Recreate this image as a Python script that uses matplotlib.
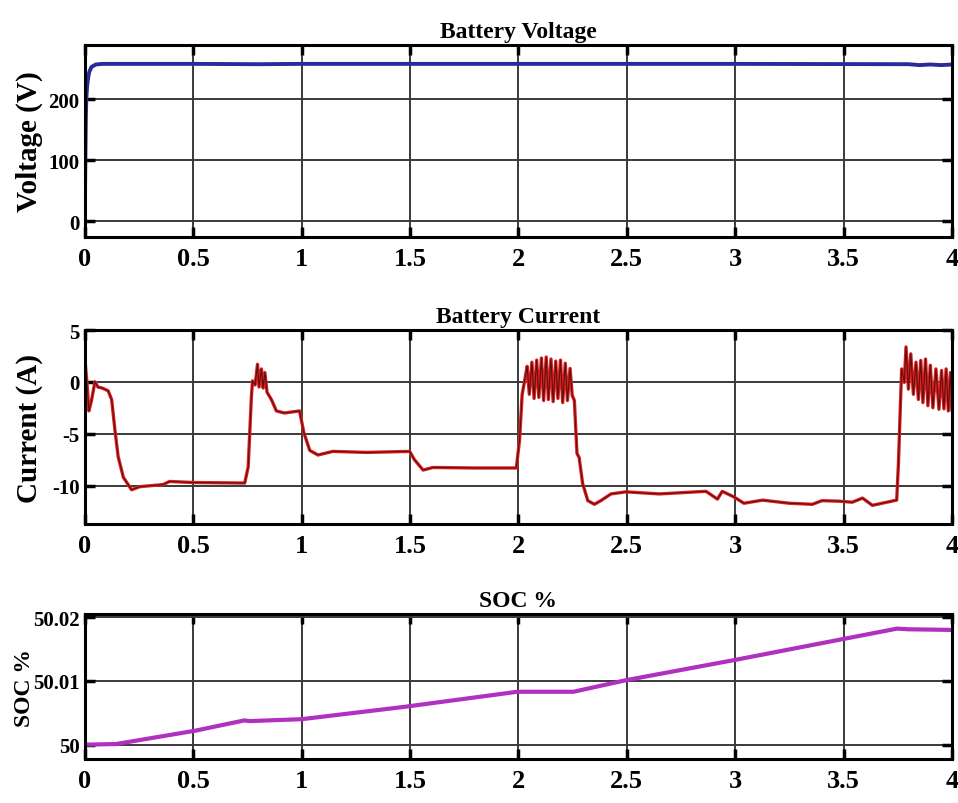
import matplotlib
matplotlib.use('Agg')
import matplotlib.pyplot as plt

plt.rcParams['font.family'] = ['Liberation Serif', 'DejaVu Serif']
plt.rcParams['font.weight'] = 'bold'

# battery voltage (V) vs time (s)
t_volt = [0.0, 0.002, 0.004, 0.006, 0.010, 0.015, 0.020, 0.030, 0.050, 0.080,
          0.5, 0.8, 1.0, 2.0, 3.0, 3.8, 3.85, 3.9, 3.95, 4.0]
volt = [40, 110, 170, 200, 222, 236, 245, 253, 257, 258,
        258, 257.5, 258, 258, 258, 257.5, 256, 257, 256, 257]

# battery current (A) vs time (s)
t_curr = [0.0, 0.01, 0.018, 0.03, 0.046, 0.06, 0.08, 0.107, 0.123, 0.138,
          0.153, 0.177, 0.215, 0.253, 0.36, 0.39, 0.5, 0.737, 0.753, 0.768,
          0.773, 0.785, 0.796, 0.803, 0.814, 0.822, 0.83, 0.84, 0.86, 0.883,
          0.92, 0.99, 1.01, 1.037, 1.075, 1.144, 1.3, 1.498, 1.52, 1.56,
          1.605, 1.8, 1.99, 2.005, 2.017, 2.03, 2.040, 2.050, 2.062, 2.072,
          2.084, 2.094, 2.106, 2.116, 2.128, 2.138, 2.150, 2.160, 2.172, 2.182,
          2.194, 2.204, 2.216, 2.226, 2.238, 2.248, 2.258, 2.263, 2.27, 2.28,
          2.296, 2.32, 2.35, 2.38, 2.427, 2.496, 2.65, 2.865, 2.918, 2.94,
          2.995, 3.04, 3.126, 3.25, 3.356, 3.40, 3.48, 3.54, 3.587, 3.633,
          3.733, 3.745, 3.753, 3.762, 3.768, 3.78, 3.788, 3.799, 3.81, 3.822,
          3.834, 3.845, 3.856, 3.866, 3.878, 3.889, 3.90, 3.912, 3.926, 3.94,
          3.952, 3.963, 3.973, 3.983, 3.993, 4.0]
curr = [2.1, -0.3, -2.8, -1.8, 0.0, -0.5, -0.6, -0.86, -1.7, -4.6,
        -7.2, -9.2, -10.4, -10.1, -9.9, -9.6, -9.7, -9.75, -8.2, -1.35,
        0.1, -0.3, 1.7, -0.5, 1.25, -0.6, 0.9, -1.0, -1.7, -2.8,
        -3.0, -2.8, -4.9, -6.6, -7.05, -6.7, -6.8, -6.7, -7.5, -8.5,
        -8.25, -8.3, -8.3, -5.6, -1.2, 0.3, 1.5, -1.2, 1.9, -1.6,
        2.1, -1.5, 2.3, -1.8, 2.4, -1.7, 2.2, -1.9, 2.0, -1.6,
        2.1, -2.0, 1.8, -1.8, 1.3, -1.3, -1.8, -4.0, -6.9, -7.3,
        -9.8, -11.45, -11.8, -11.45, -10.8, -10.6, -10.8, -10.55, -11.3, -10.55,
        -11.1, -11.7, -11.4, -11.7, -11.8, -11.45, -11.5, -11.6, -11.2, -11.9,
        -11.45, -11.4, -7.9, -2.3, 1.25, -0.05, 3.37, -0.7, 2.7, -1.2,
        1.9, -1.7, 2.07, -2.0, 2.2, -2.3, 1.6, -2.5, 1.25, -2.65,
        1.1, -2.6, 1.25, -2.8, 0.9, -2.7]

# state of charge (%) vs time (s)
t_soc = [0.0, 0.143, 0.51, 0.734, 0.76, 1.0, 1.466, 1.995, 2.254, 2.494,
         3.0, 3.746, 3.8, 4.0]
soc = [50.0, 50.0001, 50.0022, 50.0038, 50.0037, 50.0040, 50.0059, 50.0083,
       50.0083, 50.0101, 50.0133, 50.0182, 50.0181, 50.0180]

xticks = [0, 0.5, 1, 1.5, 2, 2.5, 3, 3.5, 4]
xticklabels = ['0', '0.5', '1', '1.5', '2', '2.5', '3', '3.5', '4']

fig = plt.figure(figsize=(9.58, 8.04), dpi=100)
ax1 = fig.add_axes([0.0887, 0.704, 0.905, 0.2388])
ax2 = fig.add_axes([0.0887, 0.347, 0.905, 0.2413])
ax3 = fig.add_axes([0.0887, 0.0547, 0.905, 0.1804])


def style(ax, title, ylabel, yticks, yticklabels, ylim, label_x, label_size):
    ax.set_xlim(0, 4)
    ax.set_ylim(*ylim)
    ax.set_xticks(xticks)
    ax.set_xticklabels(xticklabels)
    ax.set_yticks(yticks)
    ax.set_yticklabels(yticklabels)
    ax.grid(True, color='#3a3a3a', linewidth=1.4)
    ax.tick_params(direction='in', length=7, width=2.5, top=True, right=True)
    ax.tick_params(axis='x', labelsize=19, pad=7)
    ax.tick_params(axis='y', labelsize=15, pad=4)
    for s in ax.spines.values():
        s.set_linewidth(2.2)
    ax.set_title(title, fontsize=17, fontweight='bold', pad=6)
    ax.set_ylabel(ylabel, fontsize=label_size, fontweight='bold')
    # label anchor is its right edge once rotated
    ax.yaxis.set_label_coords(label_x, 0.5)


ax1.plot(t_volt, volt, color='#2b2a9a', linewidth=2.8)
style(ax1, 'Battery Voltage', 'Voltage (V)', [0, 100, 200],
      ['0', '100', '200'], (-26, 289), -0.048, 21)

ax2.plot(t_curr, curr, color='#e02020', linewidth=2.4)
ax2.plot(t_curr, curr, color='#5a1010', linewidth=0.8)
style(ax2, 'Battery Current', 'Current (A)', [5, 0, -5, -10],
      ['5', '0', '-5', '-10'], (-13.7, 5), -0.048, 21)

ax3.plot(t_soc, soc, color='#b030c0', linewidth=3)
style(ax3, 'SOC %', 'SOC %', [50.0, 50.01, 50.02],
      ['50', '50.01', '50.02'], (49.99775, 50.0205), -0.058, 17)

fig.savefig('out.png', dpi=100)
